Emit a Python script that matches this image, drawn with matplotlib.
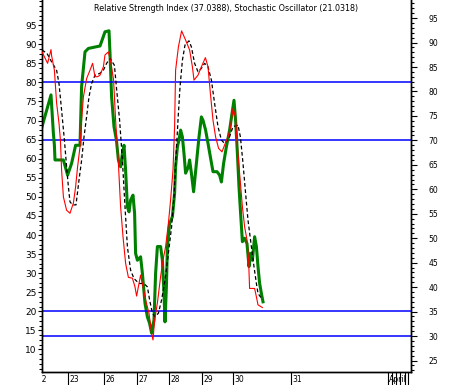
import matplotlib
matplotlib.use("Agg")
import matplotlib.pyplot as plt
import numpy as np
from matplotlib.transforms import ScaledTranslation, Bbox, TransformedBbox

# 数据：横轴为 bar 序号，纵轴为指标值
# RSI（绿色，右轴）
rsi_x = [0, 4.5, 5.7, 6.2, 6.5, 10.7, 12.8, 14.8, 16.8, 19, 19.8, 21.5, 23.2, 29, 30.3, 31.5,
         33.5, 34, 34.8, 36, 37.2, 38.2, 39.3, 40.2, 41, 41.8, 42.7, 43.5, 44.3, 45.5, 46.3,
         46.8, 47.7, 49.3, 50.2, 51.5, 52.7, 53.8, 54.8, 56, 56.8, 57.7, 59.3, 60.2, 61, 61.5,
         62.2, 62.7, 63.8, 65.2, 66.3, 66.8, 67.7, 68.5, 69.3, 70.2, 71, 71.8, 73.2, 73.8, 74.7,
         75.8, 77.2, 78.5, 79.7, 80.5, 81.8, 83, 84.2, 85.5, 87.5, 88.8, 89.7, 90.8, 92.2, 93.8,
         95, 96, 96.8, 97.7, 98.5, 99.3, 100.2, 101.3, 102.5, 103.5, 104.3, 105.2, 106.3, 107.2,
         108, 108.8, 109.7, 110.5]
rsi_v = [72.8, 79.3, 71.4, 69.0, 66.0, 66.0, 62.9, 65.3, 69.0, 69.0, 81.0, 88.1, 88.8, 89.3, 90.8,
         92.2, 92.4, 87.8, 78.9, 72.8, 70.1, 66.0, 64.6, 67.3, 69.0, 63.9, 56.4, 55.4, 57.8, 58.8,
         55.1, 46.9, 45.5, 46.2, 42.8, 36.7, 33.9, 32.6, 30.6, 33.3, 42.8, 48.3, 48.3, 45.5, 38.7,
         32.9, 40.1, 48.3, 53.0, 54.4, 59.2, 64.6, 68.7, 70.1, 72.1, 70.7, 67.3, 63.3, 64.6, 66.0,
         63.3, 59.5, 65.3, 70.7, 74.8, 74.1, 72.1, 69.4, 66.6, 63.6, 63.6, 62.9, 61.5, 65.3, 68.7,
         72.1, 75.5, 78.2, 74.1, 67.3, 60.5, 55.1, 49.3, 50.0, 48.9, 44.2, 46.9, 45.5, 50.3, 48.3,
         44.2, 40.8, 38.7, 37.0]

# Stochastic %K（红色，左轴）
k_x = [0, 2.8, 4.5, 4.8, 6.2, 7.3, 8.5, 9.2, 9.8, 10.7, 12.3, 14, 15.7, 16.8, 17.8, 19, 19.8,
       20.7, 22.3, 24, 25.3, 26.5, 27.8, 29, 30.7, 31.5, 33.2, 34.5, 35.8, 36.8, 38.2, 39.3,
       40.5, 41.8, 43.2, 45.2, 46.5, 47.3, 48.5, 49.3, 50.5, 51.8, 53.5, 54.8, 55.5, 56.3, 57.7,
       59.3, 60.5, 61.8, 63.2, 64.3, 65.5, 66.3, 66.8, 68.2, 69.8, 71.8, 73.8, 75.2, 76, 78, 79.7,
       81.7, 83, 84.2, 85.5, 86.8, 88.3, 90, 91.3, 93, 94.3, 95.5, 96.7, 97.7, 98.8, 100.2, 101.3,
       102.5, 103.3, 103.8, 106.3, 107.2, 108, 110.2]
k_v = [88.0, 85.0, 88.6, 87.0, 83.2, 74.6, 69.3, 64.9, 57.0, 50.0, 46.5, 45.7, 48.4, 52.6, 57.9,
       63.1, 70.1, 76.2, 81.0, 83.2, 85.0, 81.5, 81.5, 81.9, 84.1, 87.2, 88.0, 85.0, 80.6, 70.1,
       58.8, 47.4, 39.6, 32.6, 28.9, 28.7, 26.4, 24.0, 27.3, 29.5, 26.4, 23.0, 19.5, 14.2, 12.5,
       17.7, 22.2, 29.1, 33.4, 36.9, 43.1, 49.2, 57.0, 68.4, 83.2, 89.3, 93.5, 91.1, 88.5, 84.1,
       80.6, 81.9, 84.1, 86.5, 84.1, 77.1, 70.1, 65.7, 62.7, 61.8, 63.6, 65.7, 68.4, 73.2, 71.0,
       63.1, 56.2, 47.4, 42.2, 38.7, 33.4, 26.0, 26.0, 23.8, 21.7, 21.0]

# Stochastic %D（黑色虚线，左轴）
d_x = [0, 2.5, 4.8, 7.3, 8.5, 9.8, 11.2, 12.3, 13.2, 14, 15.3, 17, 18.5, 19.8, 21, 22.3, 23.5,
       24.8, 26.5, 29, 30.7, 32.3, 34, 36.2, 37.2, 38.8, 40.2, 41.5, 42.7, 44.3, 46, 48.5, 51,
       52.7, 53.8, 55.2, 56.5, 58.2, 59.8, 61.5, 63.2, 64.8, 66, 66.8, 68, 69, 70.2, 71.5, 73.5,
       74.7, 76.3, 78, 79.7, 81.3, 83, 84.7, 86.3, 88, 89.7, 91.3, 93.5, 95.5, 98, 99.2, 100.5,
       101.8, 103, 104.7, 106, 107.2, 108, 109.2, 110.5]
d_v = [88.5, 87.6, 85.4, 83.2, 79.7, 72.7, 64.9, 57.9, 52.6, 48.7, 47.9, 47.9, 54.4, 59.6, 65.7,
       71.0, 76.2, 79.7, 81.9, 82.4, 83.2, 85.0, 86.3, 84.5, 78.8, 70.1, 59.6, 47.4, 36.9, 30.8,
       28.6, 27.3, 27.3, 26.4, 23.0, 19.5, 18.6, 19.5, 23.0, 28.2, 35.2, 42.2, 50.0, 58.8, 70.1,
       78.8, 85.8, 89.8, 90.9, 89.3, 85.0, 82.8, 83.7, 85.0, 84.1, 80.6, 74.5, 68.4, 64.9, 64.0,
       65.3, 68.4, 68.8, 65.7, 58.8, 50.9, 43.9, 36.9, 31.7, 27.3, 24.7, 23.8, 23.5]

rsi_levels = [70, 30]
stoch_levels = [80, 20]

day_pos = [12.85, 31.15, 47.35, 63.65, 79.85, 95.65, 124.5, 172.85]
day_lbl = ["23", "26", "27", "28", "29", "30", "31", "April"]
april_minor = [174.85, 176.85, 179, 181.5, 183.15]
first_day_pos = -3.0

title = "Relative Strength Index (37.0388), Stochastic Oscillator (21.0318)"

fig = plt.figure(figsize=(4.51, 3.85), dpi=100)
ax = fig.add_axes([42 / 451, 13 / 385, 369 / 451, 372 / 385])  # RSI, 右轴
ax2 = ax.twinx()  # 随机指标, 左轴

# RSI 轴
ax.set_xlim(0, 184.5)
ax.set_ylim(22.65, 98.7)
ax.yaxis.tick_right()
ax.set_yticks(np.arange(25, 96, 5))
ax.set_yticks(np.arange(23, 99, 1), minor=True)
ax.tick_params(axis="y", which="major", direction="out", length=4.2, width=0.8,
               pad=8.5, labelsize=5.5, right=True, left=False)
ax.tick_params(axis="y", which="minor", direction="out", length=2.0, width=0.8,
               right=True, left=False)
for lv in rsi_levels:
    ax.axhline(lv, color="#0000ff", linewidth=1.1, zorder=1)
ax.plot(rsi_x, rsi_v, color="#008000", linewidth=2.2, zorder=2)

# 随机指标轴
ax2.set_ylim(4.1, 101.6)
ax2.yaxis.tick_left()
ax2.set_yticks(np.arange(10, 96, 5))
ax2.set_yticks(np.arange(5, 101.5, 1.25), minor=True)
ax2.tick_params(axis="y", which="major", direction="out", length=3.1, width=0.8,
                pad=0.8, labelsize=6.5, left=True, right=False)
ax2.tick_params(axis="y", which="minor", direction="out", length=2.0, width=0.8,
                left=True, right=False)
for lv in stoch_levels:
    ax2.axhline(lv, color="#0000ff", linewidth=1.1, zorder=1)
ax2.plot(d_x, d_v, color="black", linewidth=0.9, linestyle=(0, (3, 2)), zorder=3)
ax2.plot(k_x, k_v, color="#ff0000", linewidth=0.8, zorder=4)

# 边框
for a in (ax, ax2):
    a.spines["top"].set_visible(False)
    a.spines["left"].set_linewidth(1.0)
    a.spines["right"].set_linewidth(1.0)
    a.spines["bottom"].set_linewidth(1.0)

# X 轴刻度
ax.set_xticks(day_pos)
ax.set_xticklabels(day_lbl, ha="left")
ax.set_xticks(april_minor, minor=True)
ax.tick_params(axis="x", which="both", direction="out", length=9.4, width=0.8,
               pad=-7.4, labelsize=5.5)
ax2.tick_params(axis="x", which="both", bottom=False, labelbottom=False)
offset = ScaledTranslation(1.5 / 100, 0, fig.dpi_scale_trans)
for lab in ax.get_xticklabels():
    lab.set_transform(lab.get_transform() + offset)

# 左端被截掉的 "22"
clip = TransformedBbox(Bbox([[0, -1], [1, 1]]), ax.transAxes)
t22 = ax.text(first_day_pos, 0, "22", transform=ax.get_xaxis_transform(),
              ha="left", va="top", fontsize=5.5)
t22.set_transform(t22.get_transform() + ScaledTranslation(1.5 / 100, -3 / 100, fig.dpi_scale_trans))
t22.set_clip_box(clip)
t22.set_clip_on(True)

ax2.text(0.5, 0.977, title, transform=ax2.transAxes, ha="center", va="center", fontsize=5.8)

plt.savefig("out.png", dpi=100)
